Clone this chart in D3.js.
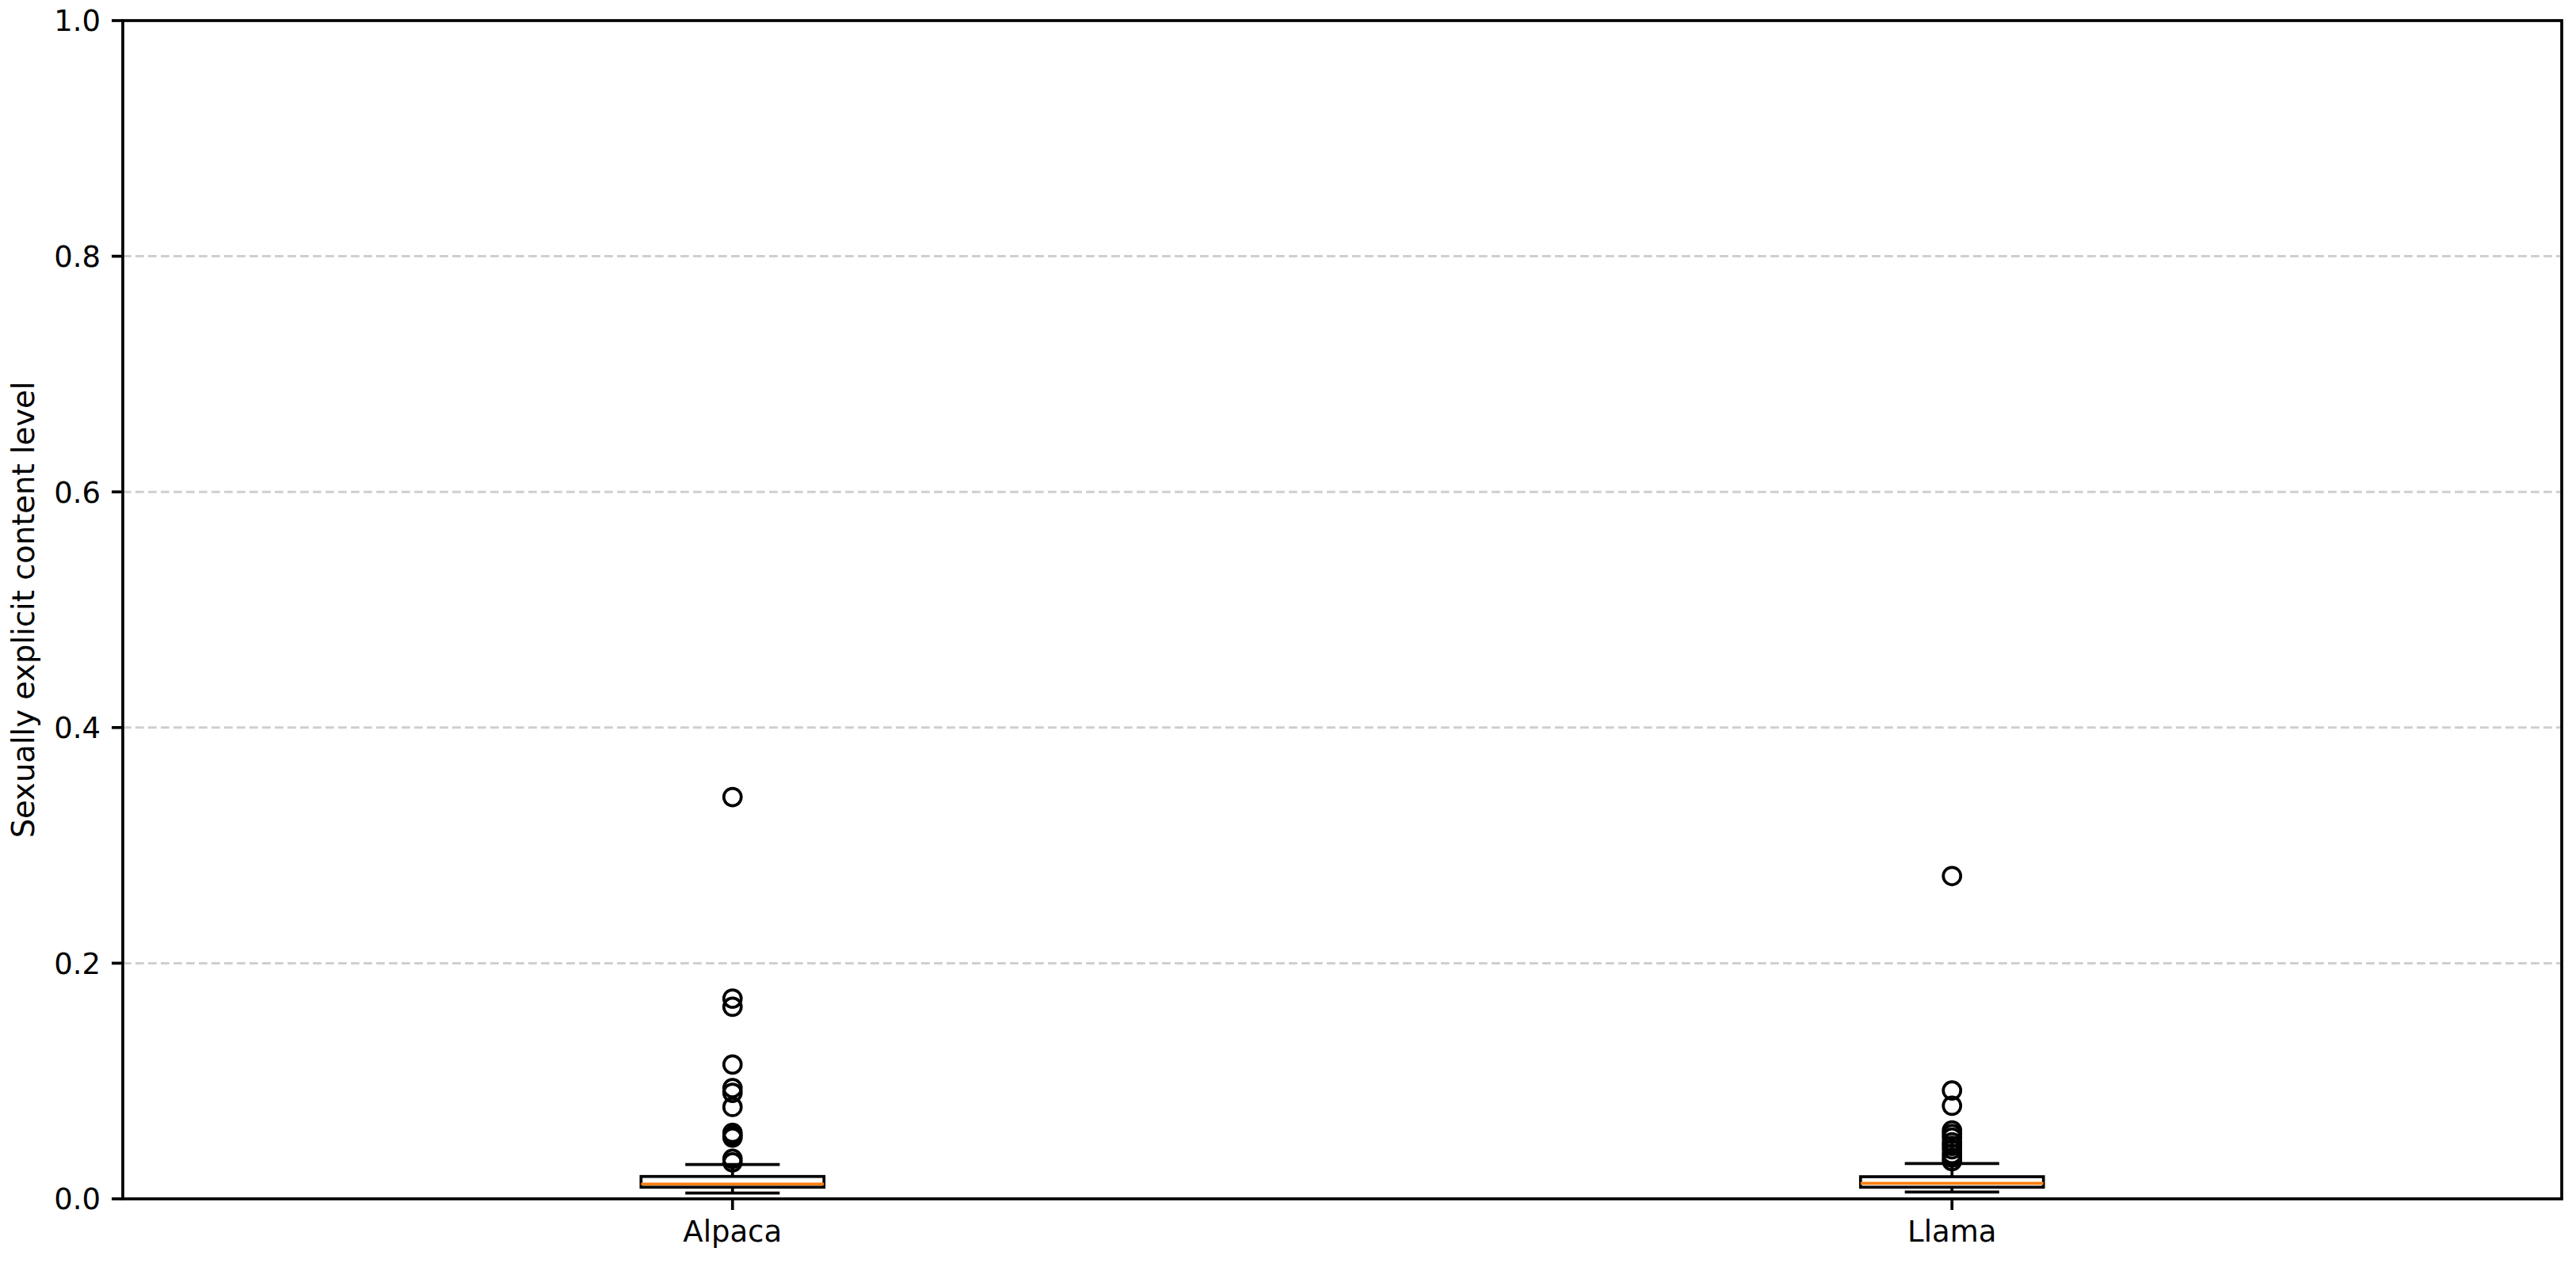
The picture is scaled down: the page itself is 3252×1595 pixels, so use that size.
<!DOCTYPE html>
<html>
<head>
<meta charset="utf-8">
<script src="https://cdn.jsdelivr.net/npm/d3@7"></script>
<style>
  html, body { margin: 0; padding: 0; background: #fff; }
  svg { display: block; }
  text { font-family: "DejaVu Sans", sans-serif; fill: #000; }
</style>
</head>
<body>
<svg id="chart" width="3252" height="1595"></svg>
<script>
// ---- data ----
const categories = ["Alpaca", "Llama"];
const positions = [1, 2];
const whiskerLow = [0.0049, 0.0058];
const q1 = [0.0099, 0.0099];
const median = [0.0126, 0.0132];
const q3 = [0.0190, 0.0188];
const whiskerHigh = [0.0291, 0.0300];
const outliersAlpaca = [0.341, 0.170, 0.163, 0.114, 0.094, 0.090, 0.078, 0.056, 0.054, 0.052, 0.034, 0.031];
const outliersLlama = [0.274, 0.092, 0.079, 0.058, 0.055, 0.052, 0.048, 0.045, 0.042, 0.038, 0.035, 0.032];
const yTicks = [0.0, 0.2, 0.4, 0.6, 0.8, 1.0];
const gridTicks = [0.2, 0.4, 0.6, 0.8];
const yLabel = "Sexually explicit content level";

const outliers = [outliersAlpaca, outliersLlama];

// ---- layout ----
const mLeft = 155, mRight = 3234, mTop = 26, mBottom = 1514;
const lw = 3.7;
const svg = d3.select("#chart");

const x = d3.scaleLinear().domain([0.5, 2.5]).range([mLeft, mRight]);
const y = d3.scaleLinear().domain([0, 1]).range([mBottom, mTop]);

const boxW = 0.15, capW = 0.075;

// grid
svg.append("g").selectAll("line").data(gridTicks).join("line")
  .attr("x1", mLeft).attr("x2", mRight)
  .attr("y1", d => y(d)).attr("y2", d => y(d))
  .attr("stroke", "#cfcfcf").attr("stroke-width", 3)
  .attr("stroke-dasharray", "10.7,5.3");

// boxes
const data = categories.map((c, i) => ({
  c, p: positions[i], lo: whiskerLow[i], q1: q1[i], med: median[i], q3: q3[i], hi: whiskerHigh[i], out: outliers[i]
}));

const g = svg.append("g");
data.forEach(d => {
  const cx = x(d.p);
  // whiskers
  g.append("line").attr("x1", cx).attr("x2", cx).attr("y1", y(d.q1)).attr("y2", y(d.lo))
    .attr("stroke", "#000").attr("stroke-width", lw);
  g.append("line").attr("x1", cx).attr("x2", cx).attr("y1", y(d.q3)).attr("y2", y(d.hi))
    .attr("stroke", "#000").attr("stroke-width", lw);
  // caps
  [d.lo, d.hi].forEach(v => {
    g.append("line").attr("x1", x(d.p - capW / 2)).attr("x2", x(d.p + capW / 2))
      .attr("y1", y(v)).attr("y2", y(v))
      .attr("stroke", "#000").attr("stroke-width", lw).attr("stroke-linecap", "square");
  });
  // box
  g.append("rect").attr("x", x(d.p - boxW / 2)).attr("width", x(d.p + boxW / 2) - x(d.p - boxW / 2))
    .attr("y", y(d.q3)).attr("height", y(d.q1) - y(d.q3))
    .attr("fill", "none").attr("stroke", "#000").attr("stroke-width", lw);
  // median
  g.append("line").attr("x1", x(d.p - boxW / 2)).attr("x2", x(d.p + boxW / 2))
    .attr("y1", y(d.med)).attr("y2", y(d.med))
    .attr("stroke", "#ff7f0e").attr("stroke-width", lw);
  // fliers
  g.selectAll(null).data(d.out).join("circle")
    .attr("cx", cx).attr("cy", v => y(v)).attr("r", 11)
    .attr("fill", "none").attr("stroke", "#000").attr("stroke-width", lw);
});

// axes frame
svg.append("rect").attr("x", mLeft).attr("y", mTop).attr("width", mRight - mLeft).attr("height", mBottom - mTop)
  .attr("fill", "none").attr("stroke", "#000").attr("stroke-width", lw);

// y ticks
const yAxis = svg.append("g");
yAxis.selectAll("line").data(yTicks).join("line")
  .attr("x1", mLeft - 14).attr("x2", mLeft)
  .attr("y1", d => y(d)).attr("y2", d => y(d))
  .attr("stroke", "#000").attr("stroke-width", lw);
yAxis.selectAll("text").data(yTicks).join("text")
  .attr("x", mLeft - 28).attr("y", d => y(d)).attr("dy", "0.36em")
  .attr("text-anchor", "end").attr("font-size", 37)
  .text(d => d3.format(".1f")(d));

// x ticks
const xAxis = svg.append("g");
xAxis.selectAll("line").data(data).join("line")
  .attr("x1", d => x(d.p)).attr("x2", d => x(d.p))
  .attr("y1", mBottom).attr("y2", mBottom + 14)
  .attr("stroke", "#000").attr("stroke-width", lw);
xAxis.selectAll("text").data(data).join("text")
  .attr("x", d => x(d.p)).attr("y", 1568)
  .attr("text-anchor", "middle").attr("font-size", 37)
  .text(d => d.c);

// y label
svg.append("text")
  .attr("transform", `translate(43, ${(mTop + mBottom) / 2}) rotate(-90)`)
  .attr("text-anchor", "middle").attr("font-size", 38.5)
  .text(yLabel);
</script>
</body>
</html>
